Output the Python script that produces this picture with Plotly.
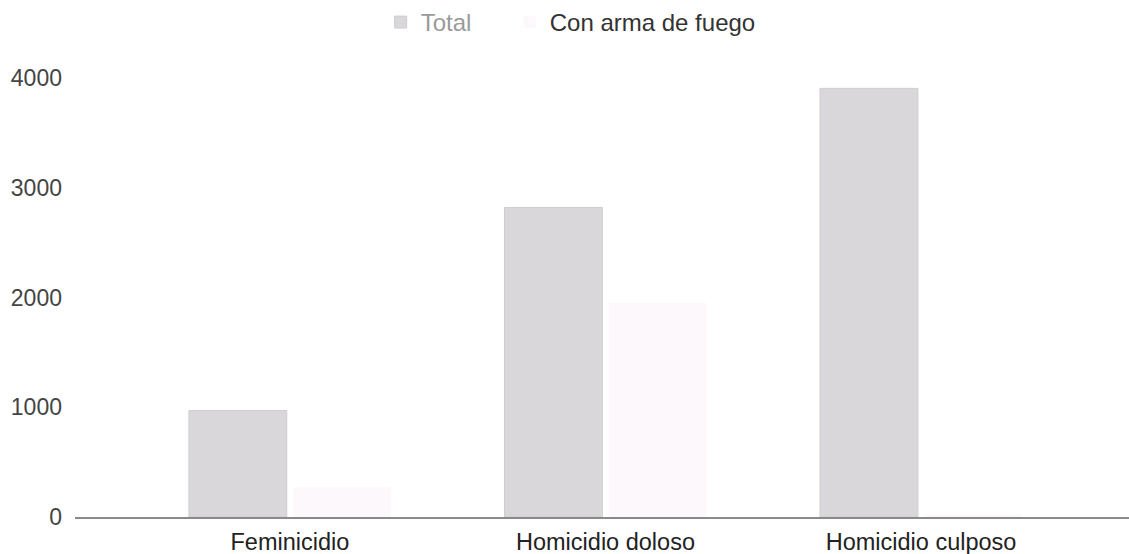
import plotly.graph_objects as go

# Delitos registrados por tipo, total y cometidos con arma de fuego
categorias = ["Feminicidio", "Homicidio doloso", "Homicidio culposo"]
total = [970, 2820, 3905]
con_arma_de_fuego = [270, 1950, 20]
ticks_y = [0, 1000, 2000, 3000, 4000]

fig = go.Figure()
fig.add_trace(go.Bar(
    x=categorias, y=total,
    name="<span style='color:#9a9a9a'>Total</span>&nbsp;&nbsp;&nbsp;&nbsp;&nbsp;",
    marker=dict(color="#d9d7da", line=dict(color="#cfcdd0", width=1)),
))
fig.add_trace(go.Bar(
    x=categorias, y=con_arma_de_fuego,
    name="<span style='color:#333333'>Con arma de fuego</span>",
    marker=dict(color="#fcf8fc", line=dict(width=0)),
))

fig.update_layout(
    width=1129, height=554,
    margin=dict(l=75, r=0, t=55, b=37),
    paper_bgcolor="white", plot_bgcolor="white",
    barmode="group", bargap=0.34, bargroupgap=0.06,
    font=dict(family="Liberation Sans, Arial, sans-serif", color="#333333"),
    showlegend=True,
    legend=dict(
        orientation="h", x=0.29, xanchor="left", y=1.122, yanchor="top",
        font=dict(size=24), itemwidth=30, traceorder="normal",
    ),
    xaxis=dict(
        range=[-0.681, 2.659], showgrid=False, zeroline=False,
        showline=True, linecolor="#8a8a8a", linewidth=2,
        ticks="", tickfont=dict(size=23.5, color="#222222"),
        ticklabelstandoff=3,
    ),
    yaxis=dict(
        range=[0, 4200], tickvals=ticks_y, showgrid=False, zeroline=False,
        showline=False, ticks="", tickfont=dict(size=23, color="#444444"),
        ticklabelstandoff=12,
    ),
)

fig.write_html("out.html")
